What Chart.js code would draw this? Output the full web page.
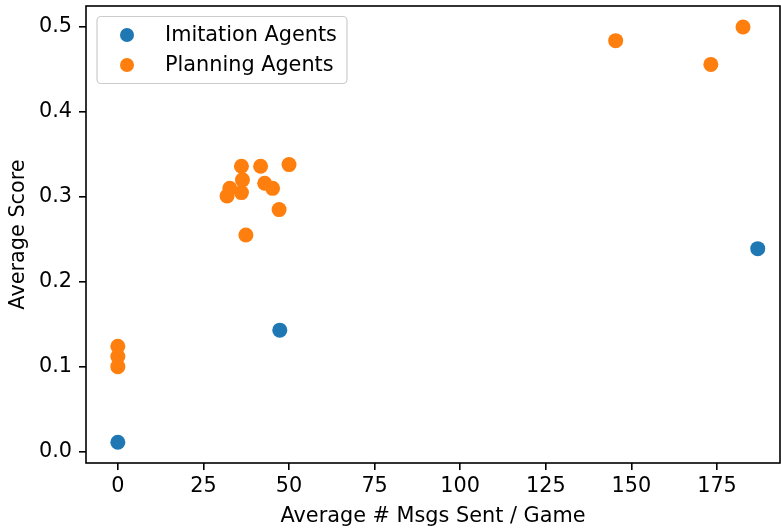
<!DOCTYPE html>
<html>
<head>
<meta charset="utf-8">
<script src="https://cdn.jsdelivr.net/npm/chart.js@4"></script>
<style>
  html, body { margin: 0; padding: 0; background: #fff; }
  #wrap { width: 781px; height: 529px; }
</style>
</head>
<body>
<div id="wrap"><canvas id="scatter" width="781" height="529"></canvas></div>
<script>
const imitationMsgs = [0, 47.3, 186.9];
const imitationScore = [0.011, 0.143, 0.239];

const planningMsgs = [0, 0, 0, 36.1, 41.7, 50.0, 36.4, 32.7, 31.9, 36.1, 42.9, 45.2, 47.1, 37.4, 145.4, 182.6, 173.2];
const planningScore = [0.124, 0.112, 0.100, 0.336, 0.336, 0.338, 0.320, 0.310, 0.301, 0.305, 0.316, 0.310, 0.285, 0.255, 0.484, 0.500, 0.456];

const seriesLabels = ["Imitation Agents", "Planning Agents"];
const seriesColors = ["#1f77b4", "#ff7f0e"];

const FONT = "'DejaVu Sans', sans-serif";
const FONT_SIZE = 20.8;

function toPoints(xs, ys) {
  return xs.map((x, i) => ({ x: x, y: ys[i] }));
}

// box around the plot + legend box in the upper left
const framePlugin = {
  id: "frame",
  afterDraw(chart) {
    const { ctx, chartArea } = chart;
    ctx.save();
    ctx.strokeStyle = "#000";
    ctx.lineWidth = 1.6;
    ctx.strokeRect(chartArea.left, chartArea.top, chartArea.right - chartArea.left, chartArea.bottom - chartArea.top);

    // legend
    const x0 = 97, y0 = 16.5, w = 250, h = 67;
    ctx.beginPath();
    ctx.roundRect(x0, y0, w, h, 4);
    ctx.fillStyle = "rgba(255,255,255,0.8)";
    ctx.fill();
    ctx.strokeStyle = "#cccccc";
    ctx.lineWidth = 1.2;
    ctx.stroke();

    ctx.font = FONT_SIZE + "px " + FONT;
    ctx.textBaseline = "middle";
    ctx.textAlign = "left";
    const rows = [35, 65];
    chart.data.datasets.forEach((ds, i) => {
      ctx.beginPath();
      ctx.arc(127, rows[i], 7, 0, Math.PI * 2);
      ctx.fillStyle = ds.backgroundColor;
      ctx.fill();
      ctx.fillStyle = "#000";
      ctx.fillText(ds.label, 165, rows[i] + 1);
    });
    ctx.restore();
  },
};

new Chart(document.getElementById("scatter"), {
  type: "scatter",
  data: {
    datasets: [
      {
        label: seriesLabels[0],
        data: toPoints(imitationMsgs, imitationScore),
        backgroundColor: seriesColors[0],
        pointRadius: 7.5,
        borderWidth: 0,
        order: 1,
      },
      {
        label: seriesLabels[1],
        data: toPoints(planningMsgs, planningScore),
        backgroundColor: seriesColors[1],
        pointRadius: 7.5,
        borderWidth: 0,
        order: 0,
      },
    ],
  },
  options: {
    responsive: false,
    animation: false,
    layout: { autoPadding: false, padding: { top: 6, right: 1, left: 0, bottom: 0 } },
    plugins: {
      legend: { display: false },
      tooltip: { enabled: false },
    },
    scales: {
      x: {
        type: "linear",
        min: -9.3,
        max: 193.4,
        afterFit: (scale) => {
          scale.height = 66;
          scale.paddingLeft = 0;
          scale.paddingRight = 0;
        },
        border: { display: false },
        grid: { drawOnChartArea: false, drawTicks: true, tickLength: 7, color: "#000", lineWidth: 1.6 },
        ticks: {
          stepSize: 25,
          includeBounds: false,
          padding: 4,
          color: "#000",
          font: { family: FONT, size: FONT_SIZE },
          callback: (v) => String(v),
        },
        title: {
          display: true,
          text: "Average # Msgs Sent / Game",
          color: "#000",
          font: { family: FONT, size: FONT_SIZE },
          padding: { top: 0, bottom: 0 },
        },
      },
      y: {
        type: "linear",
        min: -0.0135,
        max: 0.5248,
        afterFit: (scale) => {
          scale.width = 86;
          scale.paddingTop = 0;
          scale.paddingBottom = 0;
        },
        border: { display: false },
        grid: { drawOnChartArea: false, drawTicks: true, tickLength: 7, color: "#000", lineWidth: 1.6 },
        ticks: {
          stepSize: 0.1,
          includeBounds: false,
          padding: 7,
          color: "#000",
          font: { family: FONT, size: FONT_SIZE },
          callback: (v) => v.toFixed(1),
        },
        title: {
          display: true,
          text: "Average Score",
          color: "#000",
          font: { family: FONT, size: FONT_SIZE },
          padding: { top: 6, bottom: 0 },
        },
      },
    },
  },
  plugins: [framePlugin],
});
</script>
</body>
</html>
